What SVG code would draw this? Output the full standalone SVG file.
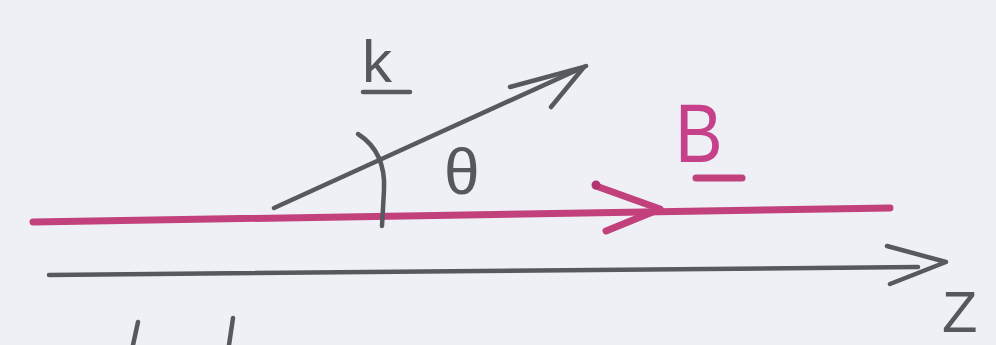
<svg xmlns="http://www.w3.org/2000/svg" width="996" height="345" viewBox="0 0 996 345">
  <style>
    .pencil { fill: none; stroke: #56595e; stroke-width: 4.5; stroke-linecap: round; stroke-linejoin: round; }
    .pink { fill: none; stroke: #c2407c; stroke-width: 7; stroke-linecap: round; stroke-linejoin: round; }
    .lbl { font-family: "Liberation Sans", "DejaVu Sans", sans-serif; }
    .g { fill: #55585d; }
    .m { fill: #c6418a; }
  </style>
  <rect x="0" y="0" width="996" height="345" fill="#eef0f5"/>

  <g id="connectors">
    <!-- B field line (magenta) -->
    <g id="B-line">
      <path class="pink" d="M33,222 L890,208"/>
      <path class="pink" stroke-width="6" d="M596,186 L660,209 L606,231"/>
      <circle cx="596" cy="185" r="4.5" fill="#b03670"/>
    </g>
    <!-- k vector -->
    <g id="k-vector">
      <path class="pencil" d="M274,208 L586,66"/>
      <path class="pencil" d="M510,87 L584,67 L551,107"/>
    </g>
    <!-- z axis -->
    <g id="z-axis">
      <path class="pencil" d="M49,275 L918,267"/>
      <path class="pencil" d="M887,246 L946,262 L890,284"/>
    </g>
  </g>

  <g id="angle">
    <path class="pencil" d="M358,134 Q386,152 384,190 L382,226"/>
  </g>

  <g id="label-k">
    <text class="lbl g" x="362" y="82" font-size="60">k</text>
    <path class="pencil" d="M363,92 L410,92"/>
  </g>

  <g id="label-theta">
    <text class="lbl g" x="444" y="194" font-size="64">θ</text>
  </g>

  <g id="label-B">
    <text class="lbl m" x="675" y="162" font-size="84" transform="translate(675,162) scale(0.85,1) translate(-675,-162)">B</text>
    <path class="pink" stroke-width="5" d="M696,178 L742,178"/>
  </g>

  <g id="label-z">
    <text class="lbl g" x="942" y="332" font-size="58">Z</text>
  </g>

  <g id="marks">
    <path class="pencil" stroke-width="3" d="M138,322 L133,345"/>
    <path class="pencil" stroke-width="3" d="M233,318 L229,345"/>
  </g>
</svg>
